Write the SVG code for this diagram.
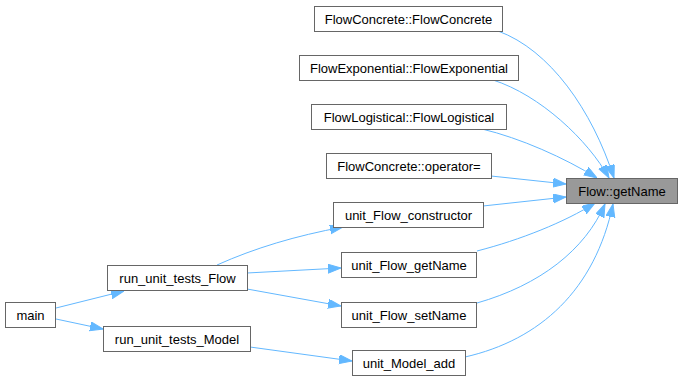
<svg xmlns="http://www.w3.org/2000/svg" width="681" height="381" viewBox="0 0 681 381">
  <style>
    .node rect { fill: #ffffff; stroke: #666666; stroke-width: 1; }
    .node.current rect { fill: #999999; }
    .node text { font-family: "Liberation Sans", Arial, sans-serif; font-size: 13px; fill: #000000; text-anchor: middle; }
    .edges path { fill: none; stroke: #63b8ff; stroke-width: 1; marker-end: url(#arrow); }
  </style>
  <defs>
    <marker id="arrow" markerUnits="userSpaceOnUse" markerWidth="13" markerHeight="10" refX="13" refY="4.5" orient="auto">
      <path d="M0,0 L13,4.5 L0,9 z" fill="#63b8ff" stroke="#63b8ff" stroke-width="1"/>
    </marker>
  </defs>

  <rect width="681" height="381" fill="#ffffff"/>

  <!-- call edges -->
  <g id="edges" class="edges">
    <path d="M498,31 C550,50 592,110 614,178"/>
    <path d="M493,80 C540,95 588,140 609,178"/>
    <path d="M482,129 C520,138 565,158 597,178"/>
    <path d="M491,176 L566,184"/>
    <path d="M483,206 L566,197"/>
    <path d="M477,251 C520,240 565,222 595,203"/>
    <path d="M477,303 C540,285 585,250 605,204"/>
    <path d="M465,357 C540,340 595,290 613,204"/>
    <path d="M217,265 C255,248 295,236 343,227"/>
    <path d="M247,273 L341,268"/>
    <path d="M247,289 L341,306"/>
    <path d="M56,308 L124,291"/>
    <path d="M56,319 L103,329"/>
    <path d="M250,347 L352,361"/>
  </g>

  <g id="node-flow-getname" class="node current">
    <rect x="566.5" y="178.5" width="111" height="25"/>
    <text x="622" y="195.5">Flow::getName</text>
  </g>
  <g id="node-flowconcrete-ctor" class="node">
    <rect x="314.5" y="6.5" width="188" height="25"/>
    <text x="408.5" y="23.5">FlowConcrete::FlowConcrete</text>
  </g>
  <g id="node-flowexponential-ctor" class="node">
    <rect x="299.5" y="55.5" width="219" height="25"/>
    <text x="409" y="72.5">FlowExponential::FlowExponential</text>
  </g>
  <g id="node-flowlogistical-ctor" class="node">
    <rect x="311.5" y="104.5" width="195" height="25"/>
    <text x="409" y="121.5">FlowLogistical::FlowLogistical</text>
  </g>
  <g id="node-flowconcrete-assign" class="node">
    <rect x="326.5" y="153.5" width="165" height="25"/>
    <text x="409" y="170.5">FlowConcrete::operator=</text>
  </g>
  <g id="node-unit-flow-constructor" class="node">
    <rect x="333.5" y="202.5" width="150" height="25"/>
    <text x="408.5" y="219.5">unit_Flow_constructor</text>
  </g>
  <g id="node-unit-flow-getname" class="node">
    <rect x="341.5" y="252.5" width="135" height="25"/>
    <text x="409" y="269.5">unit_Flow_getName</text>
  </g>
  <g id="node-unit-flow-setname" class="node">
    <rect x="341.5" y="302.5" width="135" height="25"/>
    <text x="409" y="319.5">unit_Flow_setName</text>
  </g>
  <g id="node-unit-model-add" class="node">
    <rect x="352.5" y="350.5" width="113" height="25"/>
    <text x="409" y="367.5">unit_Model_add</text>
  </g>
  <g id="node-run-unit-tests-flow" class="node">
    <rect x="107.5" y="265.5" width="140" height="25"/>
    <text x="177.5" y="282.5">run_unit_tests_Flow</text>
  </g>
  <g id="node-run-unit-tests-model" class="node">
    <rect x="103.5" y="326.5" width="147" height="25"/>
    <text x="177" y="343.5">run_unit_tests_Model</text>
  </g>
  <g id="node-main" class="node">
    <rect x="5.5" y="302.5" width="50" height="25"/>
    <text x="30.5" y="319.5">main</text>
  </g>
</svg>
